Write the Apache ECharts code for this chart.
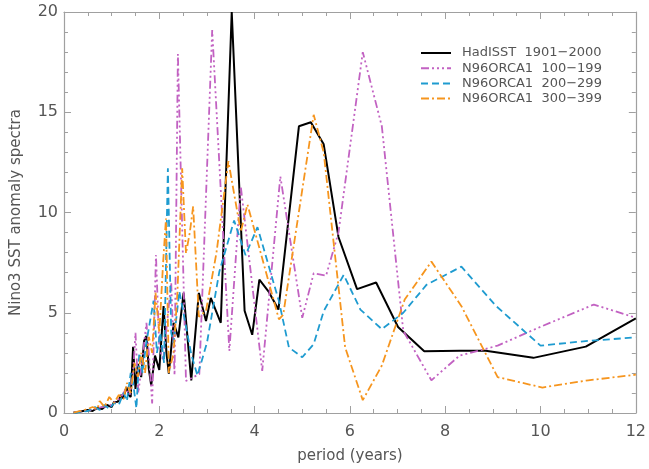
<!DOCTYPE html>
<html>
<head>
<meta charset="utf-8">
<script src="https://cdn.jsdelivr.net/npm/echarts@6/dist/echarts.min.js"></script>
<style>
html,body{margin:0;padding:0;background:#fff;}
#chart{width:649px;height:469px;}
</style>
</head>
<body>
<div id="chart"></div>
<script>
// Series names
var seriesNames = ['HadISST  1901\u22122000', 'N96ORCA1  100\u2212199', 'N96ORCA1  200\u2212299', 'N96ORCA1  300\u2212399'];

// [period (years), spectra]
var hadisst = [[0.2,0.02],[0.3,0.05],[0.4,0.1],[0.5,0.15],[0.6,0.1],[0.7,0.25],[0.8,0.2],[0.9,0.4],[1.0,0.3],[1.05,0.55],[1.13,0.56],[1.2,0.9],[1.24,0.72],[1.31,1.3],[1.36,0.9],[1.40,0.8],[1.45,3.3],[1.5,1.2],[1.55,2.45],[1.62,1.79],[1.68,3.6],[1.73,3.85],[1.78,2.2],[1.83,1.38],[1.91,2.86],[2.0,2.15],[2.09,5.33],[2.15,3.0],[2.2,1.96],[2.30,4.5],[2.40,3.77],[2.51,5.99],[2.67,1.63],[2.83,5.99],[2.98,4.59],[3.08,5.74],[3.29,4.5],[3.52,20],[3.79,5.1],[3.95,3.9],[4.1,6.65],[4.29,6.07],[4.5,5.16],[4.93,14.3],[5.18,14.5],[5.45,13.4],[5.76,8.78],[6.15,6.18],[6.55,6.51],[7.01,4.29],[7.56,3.08],[8.3,3.1],[8.85,3.1],[9.85,2.75],[10.95,3.31],[12.0,4.72]];

var orca100 = [[0.2,0.02],[0.35,0.08],[0.5,0.12],[0.65,0.2],[0.8,0.3],[0.95,0.35],[1.1,0.6],[1.2,0.8],[1.3,1.2],[1.38,0.9],[1.45,2.0],[1.5,4.0],[1.56,1.0],[1.62,2.2],[1.73,4.5],[1.78,3.0],[1.85,0.48],[1.93,7.88],[2.0,3.27],[2.08,2.6],[2.15,4.2],[2.25,6.5],[2.32,1.9],[2.39,17.9],[2.56,1.6],[2.84,1.94],[3.11,19.1],[3.47,3.1],[3.71,11.3],[4.16,2.1],[4.54,11.8],[5.0,4.75],[5.24,6.97],[5.5,6.85],[5.76,9.0],[6.27,18.0],[6.67,14.3],[7.12,4.1],[7.71,1.63],[8.3,2.86],[9.1,3.36],[10.04,4.34],[11.12,5.41],[12.0,4.75]];

var orca200 = [[0.2,0.01],[0.35,0.05],[0.5,0.1],[0.65,0.3],[0.75,0.15],[0.85,0.4],[0.95,0.2],[1.05,0.5],[1.15,0.4],[1.25,1.0],[1.32,0.6],[1.4,2.0],[1.45,1.5],[1.52,0.23],[1.58,3.0],[1.65,2.0],[1.72,3.4],[1.8,4.5],[1.88,5.6],[1.95,3.0],[2.02,4.0],[2.1,2.5],[2.18,12.2],[2.25,4.0],[2.3,3.5],[2.42,6.07],[2.67,2.94],[2.8,1.87],[3.0,3.5],[3.26,7.05],[3.57,9.6],[3.81,7.87],[4.06,9.27],[4.51,5.58],[4.72,3.27],[5.0,2.78],[5.24,3.44],[5.45,5.08],[5.87,6.89],[6.22,5.16],[6.67,4.18],[7.12,5.0],[7.61,6.4],[8.34,7.3],[9.07,5.33],[10.0,3.36],[11.0,3.6],[12.0,3.77]];

var orca300 = [[0.2,0.02],[0.35,0.1],[0.5,0.2],[0.6,0.3],[0.7,0.2],[0.75,0.6],[0.85,0.3],[0.95,0.8],[1.05,0.5],[1.15,0.9],[1.25,0.7],[1.32,1.5],[1.4,1.0],[1.48,2.5],[1.55,1.8],[1.62,3.0],[1.7,2.0],[1.78,3.8],[1.85,3.0],[1.92,6.0],[2.0,4.0],[2.08,7.5],[2.14,9.7],[2.2,2.0],[2.3,3.0],[2.38,6.0],[2.48,12.2],[2.56,7.96],[2.64,9.0],[2.71,10.3],[2.83,4.8],[2.98,5.09],[3.2,8.0],[3.45,12.56],[3.71,9.04],[3.85,10.4],[4.51,4.67],[4.6,4.9],[5.24,14.87],[5.45,13.0],[5.9,3.27],[6.27,0.64],[6.67,2.37],[7.15,5.66],[7.71,7.55],[8.34,5.33],[9.1,1.79],[10.04,1.27],[11.0,1.63],[12.0,1.91]];

var xTickValues = [0, 2, 4, 6, 8, 10, 12];
var yTickValues = [0, 5, 10, 15, 20];

var font = 'DejaVu Sans';
var txt = '#555';
var frame = '#a0a0a0';

var chart = echarts.init(document.getElementById('chart'), null, {renderer: 'canvas'});

function axisCommon(showLabel) {
  return {
    axisLine: {show: true, onZero: false, lineStyle: {color: frame, width: 1.2}},
    axisTick: {show: true, inside: true, length: 7, lineStyle: {color: frame}},
    minorTick: {show: true, length: 4, lineStyle: {color: frame}},
    splitLine: {show: false},
    axisLabel: {show: showLabel, color: txt, fontFamily: font, fontSize: 16}
  };
}

var xBottom = Object.assign(axisCommon(true), {
  type: 'value', position: 'bottom', min: 0, max: 12, interval: 2,
  name: 'period (years)', nameLocation: 'middle', nameGap: 36,
  nameTextStyle: {color: txt, fontFamily: font, fontSize: 15}
});
xBottom.minorTick.splitNumber = 4;
xBottom.axisLabel.margin = 11;

var xTop = Object.assign(axisCommon(false), {type: 'value', position: 'top', min: 0, max: 12, interval: 2});
xTop.minorTick.splitNumber = 4;

var yLeft = Object.assign(axisCommon(true), {
  type: 'value', position: 'left', min: 0, max: 20, interval: 5,
  name: 'Nino3 SST anomaly spectra', nameLocation: 'middle', nameGap: 40,
  nameTextStyle: {color: txt, fontFamily: font, fontSize: 15}
});
yLeft.minorTick.splitNumber = 5;
yLeft.axisLabel.margin = 6;

var yRight = Object.assign(axisCommon(false), {type: 'value', position: 'right', min: 0, max: 20, interval: 5});
yRight.minorTick.splitNumber = 5;

function mkSeries(name, data, color, width, dash) {
  return {
    name: name, type: 'line', data: data, xAxisIndex: 0, yAxisIndex: 0,
    symbol: 'none', smooth: false, animation: false,
    lineStyle: {color: color, width: width, type: dash},
    itemStyle: {color: color}
  };
}

chart.setOption({
  backgroundColor: '#fff',
  animation: false,
  grid: {left: 64, right: 10, top: 12, bottom: 52, containLabel: false},
  legend: {
    orient: 'vertical', left: 420, top: 46, padding: 0,
    itemWidth: 30, itemHeight: 10, itemGap: 1.2,
    itemStyle: {opacity: 0},
    textStyle: {color: txt, fontFamily: font, fontSize: 13, lineHeight: 14, padding: [0, 0, 0, 6]},
    data: seriesNames
  },
  xAxis: [xBottom, xTop],
  yAxis: [yLeft, yRight],
  series: [
    mkSeries(seriesNames[0], hadisst, '#000000', 2, 'solid'),
    mkSeries(seriesNames[1], orca100, '#c262c2', 1.8, [8, 3, 2, 3, 2, 3, 2, 3]),
    mkSeries(seriesNames[2], orca200, '#1e9bd0', 1.8, [7, 4]),
    mkSeries(seriesNames[3], orca300, '#f6951e', 1.8, [8, 3, 2, 3])
  ]
});
</script>
</body>
</html>
